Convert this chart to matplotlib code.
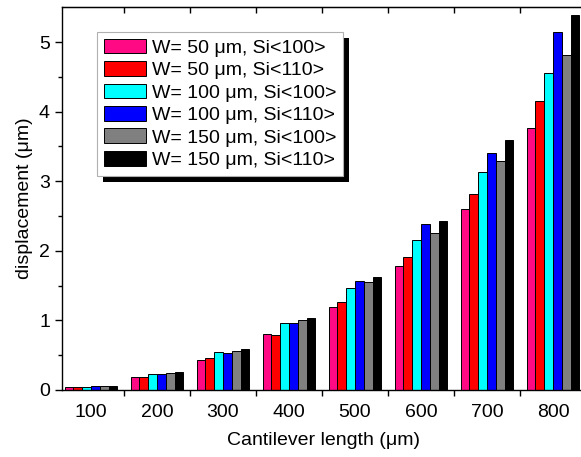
import matplotlib.pyplot as plt
import matplotlib.patches as mpatches
import numpy as np

plt.rcParams['font.family'] = ['Liberation Sans', 'DejaVu Sans']

# longueurs de poutre et déplacements
lengths = ["100", "200", "300", "400", "500", "600", "700", "800"]
labels = [
    "W= 50 \u03bcm, Si<100>",
    "W= 50 \u03bcm, Si<110>",
    "W= 100 \u03bcm, Si<100>",
    "W= 100 \u03bcm, Si<110>",
    "W= 150 \u03bcm, Si<100>",
    "W= 150 \u03bcm, Si<110>",
]
w50_100 = [0.04, 0.18, 0.43, 0.80, 1.19, 1.78, 2.60, 3.76]
w50_110 = [0.04, 0.18, 0.46, 0.79, 1.26, 1.91, 2.81, 4.15]
w100_100 = [0.05, 0.23, 0.54, 0.96, 1.46, 2.16, 3.14, 4.56]
w100_110 = [0.06, 0.23, 0.53, 0.96, 1.57, 2.38, 3.40, 5.14]
w150_100 = [0.06, 0.25, 0.56, 1.00, 1.55, 2.25, 3.29, 4.81]
w150_110 = [0.06, 0.26, 0.59, 1.03, 1.62, 2.43, 3.60, 5.39]
colors = ["#ff0a84", "#ff0000", "#00ffff", "#0000ff", "#808080", "#000000"]

series = [w50_100, w50_110, w100_100, w100_110, w150_100, w150_110]

fig = plt.figure(figsize=(5.81, 4.57), dpi=100)
ax = fig.add_axes([61.7 / 581, 1 - 390 / 457, 524.3 / 581, 382.7 / 457])

x = np.arange(1, len(lengths) + 1)
bw = 0.8 / 6
for i, (vals, lab, c) in enumerate(zip(series, labels, colors)):
    ax.bar(x + (i - 2.5) * bw, vals, width=bw, color=c, edgecolor="black",
           linewidth=0.7, label=lab)

ax.set_xlim(0.556, 8.5)
ax.set_ylim(0, 5.5)
ax.set_xticks(x)
ax.set_xticklabels(lengths, fontsize=14)
ax.set_xticks(np.arange(1.5, 8.5, 1), minor=True)
ax.tick_params(axis="x", which="major", length=0, pad=10)
ax.tick_params(axis="x", which="minor", direction="out", length=4, width=1)
ax.set_yticks(range(6))
ax.set_yticks(np.arange(0.5, 5.5, 1), minor=True)
ax.tick_params(axis="y", which="major", labelsize=14, direction="out", length=5, width=1)
ax.tick_params(axis="y", which="minor", direction="out", length=3, width=1)

top = ax.secondary_xaxis("top")
top.set_xticks(np.arange(1.5, 8.5, 1))
top.tick_params(direction="in", length=4, width=1, labeltop=False)

for s in ax.spines.values():
    s.set_linewidth(1)

ax.set_xlabel("Cantilever length (\u03bcm)", fontsize=14, labelpad=8)
ax.set_ylabel("displacement (\u03bcm)", fontsize=14, labelpad=4)

leg = ax.legend(loc="upper left", bbox_to_anchor=(0.0668, 0.936), borderaxespad=0,
                fontsize=14, fancybox=False, framealpha=1, edgecolor="#b0b0b0",
                handlelength=2.2, handleheight=0.8, labelspacing=0.22,
                handletextpad=0.3, borderpad=0.35)
leg.get_frame().set_linewidth(0.8)
leg.set_zorder(5)

# ombre noire derrière la légende
fig.canvas.draw()
bb = leg.get_window_extent()
W, H = fig.bbox.width, fig.bbox.height
shadow = mpatches.Rectangle(((bb.x0 + 6) / W, (bb.y0 - 6) / H), bb.width / W, bb.height / H,
                            transform=fig.transFigure, facecolor="black", edgecolor="none",
                            zorder=4, clip_on=False)
ax.add_patch(shadow)

fig.savefig("out.png", dpi=100)
